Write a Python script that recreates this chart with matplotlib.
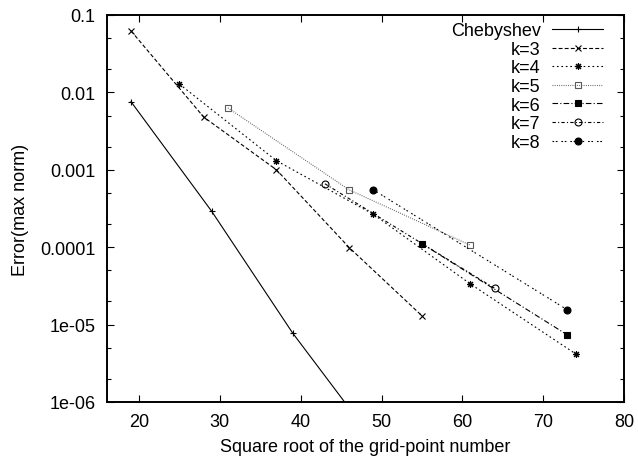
import numpy as np
import matplotlib
matplotlib.use("Agg")
import matplotlib.pyplot as plt
from matplotlib.ticker import LogLocator, NullFormatter, NullLocator

plt.rcParams['font.family'] = ['Liberation Sans', 'DejaVu Sans']

# data
cheb_x = [19, 29, 39, 49]
cheb_y = [7.6e-3, 2.9e-4, 7.8e-6, 3.2e-7]

k3_x = [19, 28, 37, 46, 55]
k3_y = [6.25e-2, 4.8e-3, 1.0e-3, 9.9e-5, 1.3e-5]

k4_x = [25, 37, 49, 61, 74]
k4_y = [1.28e-2, 1.31e-3, 2.66e-4, 3.35e-5, 4.2e-6]

k5_x = [31, 46, 61]
k5_y = [6.3e-3, 5.5e-4, 1.06e-4]

k6_x = [55, 73]
k6_y = [1.11e-4, 7.35e-6]

k7_x = [43, 64]
k7_y = [6.6e-4, 2.94e-5]

k8_x = [49, 73]
k8_y = [5.5e-4, 1.55e-5]

labels = ["Chebyshev", "k=3", "k=4", "k=5", "k=6", "k=7", "k=8"]
ytick_vals = [1e-1, 1e-2, 1e-3, 1e-4, 1e-5, 1e-6]
ytick_labels = ["0.1", "0.01", "0.001", "0.0001", "1e-05", "1e-06"]
xtick_vals = [20, 30, 40, 50, 60, 70, 80]

fig = plt.figure(figsize=(6.38, 4.60), dpi=100)
ax = fig.add_axes([106.7 / 638, 1 - 403 / 460, (624 - 106.7) / 638, (403 - 16) / 460])

lw = 0.8
ms = 5
series = [
    (cheb_x, cheb_y, dict(marker='+', linestyle='-')),
    (k3_x, k3_y, dict(marker='x', dashes=[3.5, 2])),
    (k4_x, k4_y, dict(marker=(8, 2, 0), dashes=[1.5, 2.5])),
    (k5_x, k5_y, dict(marker='s', fillstyle='none', dashes=[0.8, 1.2], color='0.35')),
    (k6_x, k6_y, dict(marker='s', dashes=[5, 2, 1, 2])),
    (k7_x, k7_y, dict(marker='o', fillstyle='none', dashes=[3, 2, 1, 2])),
    (k8_x, k8_y, dict(marker='o', dashes=[1.5, 1.5, 1.5, 3.5])),
]
for (xs, ys, st), lab in zip(series, labels):
    kw = dict(color='black', linewidth=lw, markersize=ms, markeredgewidth=0.8)
    kw.update(st)
    ax.plot(xs, ys, label=lab, **kw)

ax.set_yscale('log')
ax.set_xlim(16, 80)
ax.set_ylim(1e-6, 0.1)
ax.set_yticks(ytick_vals)
ax.set_yticklabels(ytick_labels)
ax.yaxis.set_minor_locator(LogLocator(base=10, subs=(2.0, 5.0)))
ax.yaxis.set_minor_formatter(NullFormatter())
ax.set_xticks(xtick_vals)
ax.xaxis.set_minor_locator(NullLocator())

ax.tick_params(which='both', direction='in', top=True, right=True, labelsize=13)
ax.tick_params(which='major', length=5, width=0.8, pad=8)
ax.tick_params(which='minor', length=3, width=0.8)
for sp in ax.spines.values():
    sp.set_linewidth(1.4)

ax.set_xlabel("Square root of the grid-point number", fontsize=13, labelpad=6)
ax.set_ylabel("Error(max norm)", fontsize=13, labelpad=8)

ax.legend(loc='upper right', frameon=False, markerfirst=False, fontsize=13,
          handlelength=2.8, labelspacing=0.09, handletextpad=0.65,
          borderaxespad=0.0, bbox_to_anchor=(0.973, 1.0))

fig.savefig("out.png", dpi=100)
